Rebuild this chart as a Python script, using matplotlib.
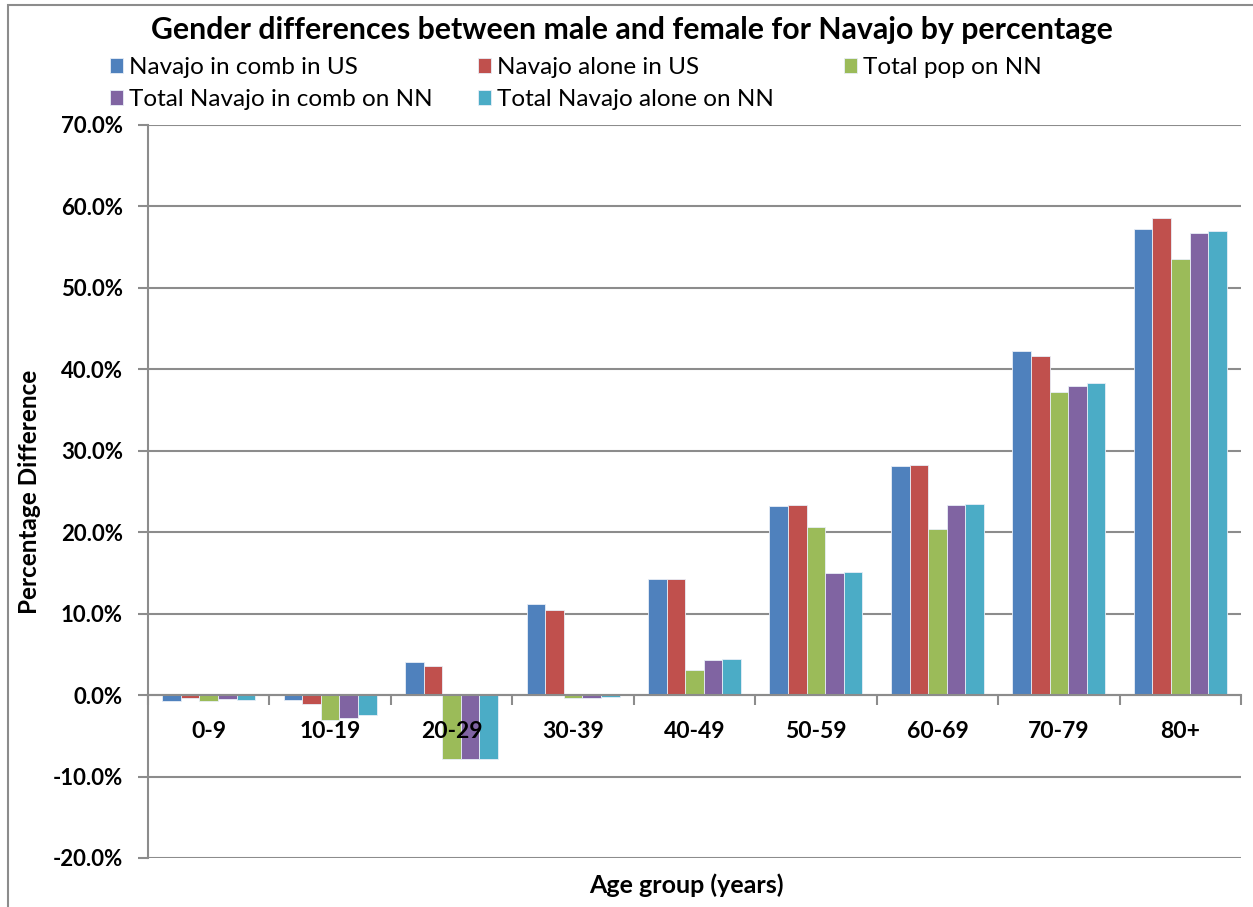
import matplotlib
matplotlib.use('Agg')
from matplotlib import pyplot as plt
from matplotlib.patches import Rectangle
from matplotlib.ticker import FuncFormatter
import numpy as np

age_groups = ['0-9', '10-19', '20-29', '30-39', '40-49', '50-59', '60-69', '70-79', '80+']
series_names = ['Navajo in comb in US', 'Navajo alone in US', 'Total pop on NN',
                'Total Navajo in comb on NN', 'Total Navajo alone on NN']

comb_us = [-0.75, -0.65, 4.05, 11.15, 14.3, 23.2, 28.15, 42.25, 57.2]
alone_us = [-0.3, -1.05, 3.6, 10.45, 14.3, 23.3, 28.25, 41.6, 58.55]
pop_nn = [-0.7, -3.0, -7.8, -0.35, 3.05, 20.6, 20.4, 37.2, 53.6]
comb_nn = [-0.45, -2.8, -7.9, -0.4, 4.25, 15.05, 23.4, 37.95, 56.75]
alone_nn = [-0.6, -2.5, -7.9, -0.25, 4.4, 15.1, 23.5, 38.3, 56.95]

colors = ['#4F81BD', '#C0504D', '#9BBB59', '#8064A2', '#4BACC6']

plt.rcParams['font.family'] = ['Lato', 'DejaVu Sans']

W, H = 1253, 907
fig = plt.figure(figsize=(W / 100, H / 100), dpi=100)
ax = fig.add_axes([148 / W, 1 - 858 / H, (1241 - 148) / W, (858 - 125) / H])

x = np.arange(len(age_groups))
width = 0.153
handles = []
for i, (vals, c) in enumerate(zip([comb_us, alone_us, pop_nn, comb_nn, alone_nn], colors)):
    b = ax.bar(x + (i - 2) * width, vals, width, color=c, edgecolor='#e8eef7',
               linewidth=0.6, label=series_names[i], zorder=3)
    handles.append(b)

ax.set_xlim(-0.5, len(age_groups) - 0.5)
ax.set_ylim(-20, 70)
ax.set_yticks(np.arange(-20, 71, 10))
ax.yaxis.set_major_formatter(FuncFormatter(lambda v, p: f'{v:.1f}%'))
ax.grid(axis='y', color='#8c8c8c', linewidth=1.5, zorder=0)

for s in ['top', 'right']:
    ax.spines[s].set_visible(False)
ax.spines['left'].set_color('#8c8c8c')
ax.spines['left'].set_linewidth(1.5)
ax.spines['bottom'].set_position(('data', 0))
ax.spines['bottom'].set_color('#8c8c8c')
ax.spines['bottom'].set_linewidth(1.5)
ax.spines['bottom'].set_zorder(4)

# category labels sit under the zero line (on top of the bars), tick marks go between groups
ax.set_xticks(x)
ax.set_xticklabels(age_groups, fontsize=16.5, fontweight='bold')
ax.set_xticks(np.arange(-0.5, len(age_groups)), minor=True)
ax.tick_params(axis='x', which='major', length=0, pad=19)
ax.tick_params(axis='x', which='minor', length=7, width=1.5, color='#8c8c8c', direction='out')
ax.xaxis.set_zorder(5)
ax.tick_params(axis='y', length=7, width=1.5, color='#8c8c8c', labelsize=16, pad=11)
for t in ax.get_yticklabels():
    t.set_fontweight('bold')

fig.text(30 / W, 1 - 492 / H, 'Percentage Difference', rotation=90, ha='center',
         va='center', fontsize=17.5, fontweight='bold')
fig.text(686 / W, 1 - 885 / H, 'Age group (years)', ha='center', va='center',
         fontsize=18, fontweight='bold')
fig.text(632 / W, 1 - 30 / H, 'Gender differences between male and female for Navajo by percentage',
         ha='center', va='center', fontsize=21.8, fontweight='bold')

# legend laid out in three columns, row-major like the series order
columns = [[0, 3], [1, 4], [2]]
col_x = [110, 478, 844]
for cols, cx in zip(columns, col_x):
    fig.legend([handles[k] for k in cols], [series_names[k] for k in cols],
               loc='upper left', bbox_to_anchor=(cx / W, 1 - 57 / H), frameon=False,
               fontsize=17.5, handlelength=0.55, handleheight=0.55, handletextpad=0.25,
               labelspacing=0.45, borderpad=0, borderaxespad=0)

fig.patches.append(Rectangle((8 / W, -0.01), 1.02, 1 - 5 / H + 0.01, transform=fig.transFigure,
                             fill=False, edgecolor='#8c8c8c', linewidth=1.5))

fig.savefig('out.png', dpi=100)
